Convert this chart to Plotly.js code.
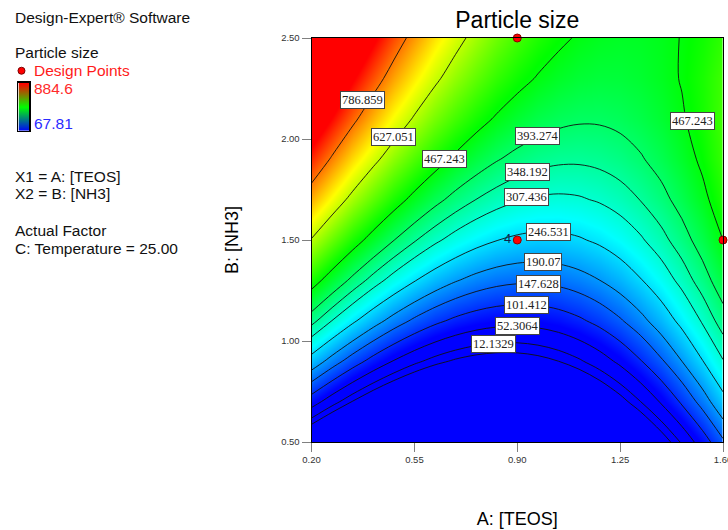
<!DOCTYPE html>
<html><head><meta charset="utf-8">
<script src="https://cdn.plot.ly/plotly-3.0.1.min.js"></script>
<style>html,body{margin:0;padding:0;background:#fff;} #chart{width:728px;height:530px;}</style>
</head><body><div id="chart"></div>
<script>
// ---- data ----
const teos = [0.20, 0.27, 0.34, 0.41, 0.48, 0.55, 0.62, 0.69, 0.76, 0.83, 0.90,
              0.97, 1.04, 1.11, 1.18, 1.25, 1.32, 1.39, 1.46, 1.53, 1.60];
const nh3  = [0.50, 0.70, 0.90, 1.10, 1.30, 1.50, 1.70, 1.90, 2.10, 2.30, 2.50];
// particle size, one row per NH3 value (bottom to top), one column per TEOS value
const particleSize = [
  [-80.0, -122.4, -159.2, -190.3, -215.8, -235.8, -250.0, -258.7, -261.8, -259.2, -251.0, -237.2, -217.8, -192.7, -162.0, -125.8, -83.8, -36.3, 16.8, 75.6, 140.0],
  [75.0, 27.7, -13.8, -49.6, -79.5, -103.7, -122.1, -134.6, -141.5, -142.5, -137.7, -127.2, -110.9, -88.7, -60.9, -27.2, 12.3, 57.5, 108.6, 165.4, 228.0],
  [222.7, 170.6, 124.4, 84.1, 49.7, 21.2, -1.3, -17.9, -28.6, -33.4, -32.3, -25.2, -12.2, 6.7, 31.5, 62.2, 98.9, 141.5, 190.0, 244.4, 304.7],
  [363.2, 306.3, 255.4, 210.6, 171.7, 138.9, 112.1, 91.4, 76.7, 68.0, 65.3, 68.7, 78.1, 93.5, 114.9, 142.4, 175.9, 215.5, 261.0, 312.6, 370.2],
  [496.5, 434.9, 379.3, 329.9, 286.6, 249.4, 218.3, 193.4, 174.5, 161.7, 155.1, 154.5, 160.1, 171.8, 189.5, 213.4, 243.4, 279.5, 321.7, 370.1, 424.5],
  [622.5, 556.2, 496.1, 442.2, 394.4, 352.8, 317.3, 288.0, 264.8, 247.8, 237.0, 232.3, 233.8, 241.5, 255.3, 275.3, 301.4, 333.7, 372.1, 416.7, 467.5],
  [741.3, 670.4, 605.8, 547.3, 495.0, 448.9, 409.0, 375.2, 347.7, 326.3, 311.1, 302.1, 299.3, 302.6, 312.2, 327.9, 349.8, 377.9, 412.2, 452.6, 499.3],
  [852.8, 777.5, 708.3, 645.3, 588.5, 537.8, 493.4, 455.1, 423.0, 397.1, 377.3, 363.8, 356.4, 355.2, 360.2, 371.3, 388.7, 412.2, 441.9, 477.8, 519.8],
  [957.1, 877.3, 803.7, 736.2, 674.8, 619.6, 570.5, 527.6, 490.8, 460.2, 435.7, 417.4, 405.2, 399.2, 399.3, 405.6, 418.0, 436.6, 461.3, 492.1, 529.1],
  [1054.2, 970.0, 891.9, 819.9, 754.0, 694.1, 640.4, 592.7, 551.2, 515.7, 486.3, 463.0, 445.8, 434.6, 429.6, 430.6, 437.8, 451.0, 470.3, 495.7, 527.2],
  [1144.0, 1055.5, 973.0, 896.5, 826.0, 761.5, 703.0, 650.5, 604.0, 563.5, 529.0, 500.5, 478.0, 461.5, 451.0, 446.5, 448.0, 455.5, 469.0, 488.5, 514.0]
];
const contourLevels = [-12.1802, 12.1329, 52.3064, 101.412, 147.628, 190.07, 246.531,
                       307.436, 348.192, 393.274, 467.243, 627.051, 786.859];
const labelText = ['786.859','627.051','467.243','393.274','348.192','307.436','246.531',
                   '190.07','147.628','101.412','52.3064','12.1329','467.243'];
const labelA = [0.373, 0.478, 0.653, 0.968, 0.936, 0.932, 1.005, 0.987, 0.973, 0.932, 0.900, 0.820, 1.497];
const labelB = [2.191, 2.008, 1.899, 2.017, 1.835, 1.711, 1.542, 1.389, 1.284, 1.178, 1.074, 0.984, 2.090];
const designA = [0.90, 0.90, 1.60];
const designB = [2.50, 1.50, 1.50];
const designTag = ['', '4', ''];
const scaleRange = [67.81, 884.6];
const xTicks = [0.20, 0.55, 0.90, 1.25, 1.60];
const xTickText = ['0.20', '0.55', '0.90', '1.25', '1.60'];
const yTicks = [0.50, 1.00, 1.50, 2.00, 2.50];
const yTickText = ['0.50', '1.00', '1.50', '2.00', '2.50'];

// ---- layout helpers (page pixels -> paper) ----
const PW = 723.3, PB = 441.7, PH = 403.4;
const px = v => v / PW;
const py = v => (PB - v) / PH;
const SANS = 'Liberation Sans, Arial, sans-serif';
const SERIF = 'Liberation Serif, Times New Roman, serif';

const dxScale = [[0, 'rgb(0,0,255)'], [0.25, 'rgb(0,255,255)'], [0.5, 'rgb(0,255,0)'],
                 [0.75, 'rgb(255,255,0)'], [1, 'rgb(255,0,0)']];

const traces = [];
traces.push({
  type: 'heatmap', x: teos, y: nh3, z: particleSize,
  zmin: scaleRange[0], zmax: scaleRange[1], zsmooth: 'best',
  colorscale: dxScale, showscale: false, hoverinfo: 'skip'
});
contourLevels.forEach(lv => {
  traces.push({
    type: 'contour', x: teos, y: nh3, z: particleSize,
    autocontour: false,
    contours: {start: lv, end: lv, size: 1, coloring: 'none', showlabels: false},
    line: {color: '#111', width: 0.9, smoothing: 1},
    showscale: false, hoverinfo: 'skip'
  });
});
traces.push({
  type: 'scatter', x: designA, y: designB, mode: 'markers+text',
  text: designTag, textposition: 'middle left',
  textfont: {family: SANS, size: 13, color: '#0f1f4a'},
  marker: {size: 8, color: '#ff0000', line: {color: '#8b0000', width: 1}},
  cliponaxis: false, hoverinfo: 'skip'
});
// small legend gradient bar
traces.push({
  type: 'heatmap', x: [0, 1], y: scaleRange,
  z: [[scaleRange[0], scaleRange[0]], [scaleRange[1], scaleRange[1]]],
  zmin: scaleRange[0], zmax: scaleRange[1], zsmooth: 'best',
  colorscale: [[0, 'rgb(0,0,255)'], [0.5, 'rgb(0,255,0)'], [1, 'rgb(255,0,0)']],
  showscale: false, xaxis: 'x2', yaxis: 'y2', hoverinfo: 'skip'
});

const annotations = [];
labelText.forEach((t, i) => {
  annotations.push({
    x: labelA[i], y: labelB[i], xref: 'x', yref: 'y', text: t, showarrow: false,
    bgcolor: '#ffffff', bordercolor: '#444', borderwidth: 1, borderpad: 1,
    font: {family: SERIF, size: 12.5, color: '#222'}
  });
});
const sideText = [
  ['Design-Expert® Software', 13, 18, '#111'],
  ['Particle size', 13, 53, '#111'],
  ['Design Points', 32, 71, '#ff1a1a'],
  ['884.6', 32, 89, '#ff2a2a'],
  ['67.81', 32, 124, '#2a2aff'],
  ['X1 = A: [TEOS]', 13, 177, '#111'],
  ['X2 = B: [NH3]', 13, 194, '#111'],
  ['Actual Factor', 13, 231, '#111'],
  ['C: Temperature = 25.00', 13, 248, '#111']
];
sideText.forEach(s => {
  annotations.push({
    x: px(s[1]), y: py(s[2]), xref: 'paper', yref: 'paper', xanchor: 'left', yanchor: 'middle',
    text: s[0], showarrow: false, font: {family: SANS, size: 15.5, color: s[3]}
  });
});

const axisCommon = {
  ticks: 'outside', ticklen: 9, tickcolor: '#808080', tickwidth: 1,
  showline: true, linecolor: '#000', linewidth: 1, mirror: true,
  showgrid: false, zeroline: false, automargin: false, ticklabeloverflow: 'allow',
  tickfont: {family: SANS, size: 9.5, color: '#333'}
};

const layout = {
  width: 728, height: 530,
  margin: {l: 0, r: 728 - PW, t: 38.3, b: 530 - PB, pad: 0},
  paper_bgcolor: '#fff', plot_bgcolor: '#fff',
  showlegend: false, hovermode: false,
  title: {text: 'Particle size', font: {family: SANS, size: 23, color: '#000'},
          x: px(517.5), xref: 'paper', xanchor: 'center', y: 1 - 20 / 530, yref: 'container', yanchor: 'middle'},
  xaxis: Object.assign({}, axisCommon, {
    domain: [px(311.7), 1], range: [0.2, 1.6], tickvals: xTicks, ticktext: xTickText,
    title: {text: 'A: [TEOS]', font: {family: SANS, size: 18, color: '#000'}, standoff: 47}
  }),
  yaxis: Object.assign({}, axisCommon, {
    domain: [0, 1], range: [0.5, 2.5], tickvals: yTicks, ticktext: yTickText,
    title: {text: 'B: [NH3]', font: {family: SANS, size: 18, color: '#000'}, standoff: 37}
  }),
  xaxis2: {domain: [px(18.5), px(29.5)], range: [0, 1], anchor: 'y2', showticklabels: false, ticks: '',
           showline: true, mirror: true, linecolor: '#000', linewidth: 1.5, showgrid: false, zeroline: false},
  yaxis2: {domain: [py(131), py(83)], range: scaleRange, anchor: 'x2', showticklabels: false, ticks: '',
           showline: true, mirror: true, linecolor: '#000', linewidth: 1.5, showgrid: false, zeroline: false},
  shapes: [{type: 'circle', xref: 'paper', yref: 'paper',
            x0: px(18), x1: px(25), y0: py(74.5), y1: py(67.5),
            fillcolor: '#ff0000', line: {color: '#7a0000', width: 1}}],
  annotations: annotations
};

Plotly.newPlot('chart', traces, layout, {staticPlot: true, displayModeBar: false});
</script>
</body></html>
